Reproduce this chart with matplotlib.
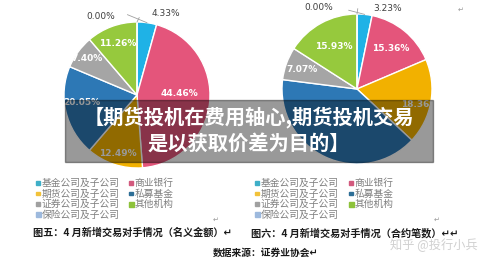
import matplotlib
matplotlib.use("Agg")
import matplotlib.pyplot as plt
from matplotlib.patches import Rectangle
import numpy as np

plt.rcParams['font.family'] = ['Noto Sans CJK SC', 'DejaVu Sans']

# ---------------- data ----------------
categories = ["基金公司及子公司", "商业银行", "期货公司及子公司", "私募基金",
              "证券公司及子公司", "其他机构", "保险公司及子公司"]
left_values = [4.33, 44.46, 12.49, 20.05, 7.40, 11.26, 0.00]    # 名义金额
right_values = [3.23, 15.36, 18.36, 40.05, 7.07, 15.93, 0.00]   # 合约笔数
left_caption = "图五：4 月新增交易对手情况（名义金额）↵"
right_caption = "图六：4 月新增交易对手情况（合约笔数）↵↵"
source_text = "数据来源：证券业协会↵"
banner_lines = ["【期货投机在费用轴心,期货投机交易", "是以获取价差为目的】"]
watermark = "知乎 @投行小兵"

# ---------------- style ----------------
pie_colors = ["#1FB2E6", "#E4557B", "#F2B100", "#2D78B5", "#A5A5A5", "#96C93D", "#9DC3E6"]
legend_colors = ["#3FAFC8", "#D25A7E", "#F2C23A", "#2D6E96", "#A0A0A0", "#8DC23A", "#9DB9DD"]
W, H = 500, 263
fig = plt.figure(figsize=(W / 100, H / 100), dpi=100)
fig.patch.set_facecolor("white")


def fx(px):
    return px / W


def fy(py):
    return 1 - py / H


def draw_pie(cx, cy, r, values, inner_dist, outer_pos, angle_shift=None):
    angle_shift = angle_shift or {}
    ax = fig.add_axes([fx(cx - r), fy(cy + r), 2 * r / W, 2 * r / H])
    wedges, _ = ax.pie(values, colors=pie_colors, startangle=90, counterclock=False,
                       wedgeprops=dict(edgecolor="white", linewidth=1.0))
    ax.set_xlim(-1, 1)
    ax.set_ylim(-1, 1)
    ax.set_aspect("auto")
    ax.axis("off")
    for i, (w, v) in enumerate(zip(wedges, values)):
        mid = np.deg2rad((w.theta1 + w.theta2) / 2 + angle_shift.get(i, 0))
        if i in outer_pos:
            tx, ty = outer_pos[i]
            ex, ey = np.cos(mid) * 1.0, np.sin(mid) * 1.0
            sx = tx - 0.33 if tx > 0 else tx + 0.33
            ax.plot([ex, sx], [ey, ty - 0.02], color="#A0A0A0", lw=0.6, clip_on=False)
            ax.text(tx, ty, f"{v:.2f}%", ha="left" if tx > 0 else "right", va="center",
                    fontsize=6.5, color="#404040", family=["DejaVu Sans"])
        elif i in inner_dist:
            d = inner_dist[i]
            ax.text(np.cos(mid) * d, np.sin(mid) * d, f"{v:.2f}%", ha="center", va="center",
                    fontsize=6.5, color="white", fontweight="bold", family=["DejaVu Sans"])
    return ax


draw_pie(137, 95, 73, left_values,
         {1: 0.58, 2: 0.84, 3: 0.76, 4: 0.84, 5: 0.75},
         {0: (0.2, 1.12), 6: (-0.3, 1.08)},
         angle_shift={1: 7, 3: -6})
# the 私募基金 label of the right pie is hidden under the banner in the reference
draw_pie(357, 89, 75, right_values,
         {1: 0.70, 2: 0.86, 4: 0.78, 5: 0.65},
         {0: (0.22, 1.07), 6: (-0.32, 1.09)},
         angle_shift={2: -4})


def draw_legend(x0, x1, y0):
    pos = [(x0, 0), (x1, 0), (x0, 1), (x1, 1), (x0, 2), (x1, 2), (x0, 3)]
    for (x, row), name, c in zip(pos, categories, legend_colors):
        y = y0 + row * 10.6
        sz = 3.5 if name not in ("其他机构", "保险公司及子公司") else 5
        fig.patches.append(Rectangle((fx(x - sz / 2), fy(y + sz / 2)), sz / W, sz / H,
                                     transform=fig.transFigure, color=c, figure=fig))
        fig.text(fx(x + 3.5), fy(y), name, fontsize=7.0, color="#7F7F7F", va="center", ha="left")


draw_legend(38, 131, 183)
draw_legend(257, 351, 183)

fig.text(fx(33), fy(233), left_caption, fontsize=7.3, fontweight="bold", color="#1A1A1A",
         va="center", ha="left")
fig.text(fx(251), fy(233), right_caption, fontsize=7.3, fontweight="bold", color="#1A1A1A",
         va="center", ha="left")
fig.text(fx(213), fy(253), source_text, fontsize=7.0, fontweight="bold", color="#1A1A1A",
         va="center", ha="left")
fig.text(fx(434), fy(245), watermark, fontsize=8.8, color="#C8C8C8", alpha=0.85,
         va="center", ha="center")
fig.text(fx(216), fy(220), "↵", fontsize=5, color="#999999", va="center", ha="center")
fig.text(fx(437), fy(220), "↵", fontsize=5, color="#999999", va="center", ha="center")
fig.text(fx(461), fy(10), "↵", fontsize=5, color="#999999", va="center", ha="center")

# banner overlay
fig.patches.append(Rectangle((fx(65), fy(162)), (433 - 65) / W, (162 - 100) / H,
                             transform=fig.transFigure, color="black", alpha=0.4,
                             zorder=10, figure=fig))
fig.text(fx(249), fy(117), banner_lines[0], fontsize=14.6, fontweight="bold", color="white",
         va="center", ha="center", zorder=11)
fig.text(fx(249), fy(143), banner_lines[1], fontsize=14.6, fontweight="bold", color="white",
         va="center", ha="center", zorder=11)

fig.savefig("out.png", dpi=100, facecolor="white")
